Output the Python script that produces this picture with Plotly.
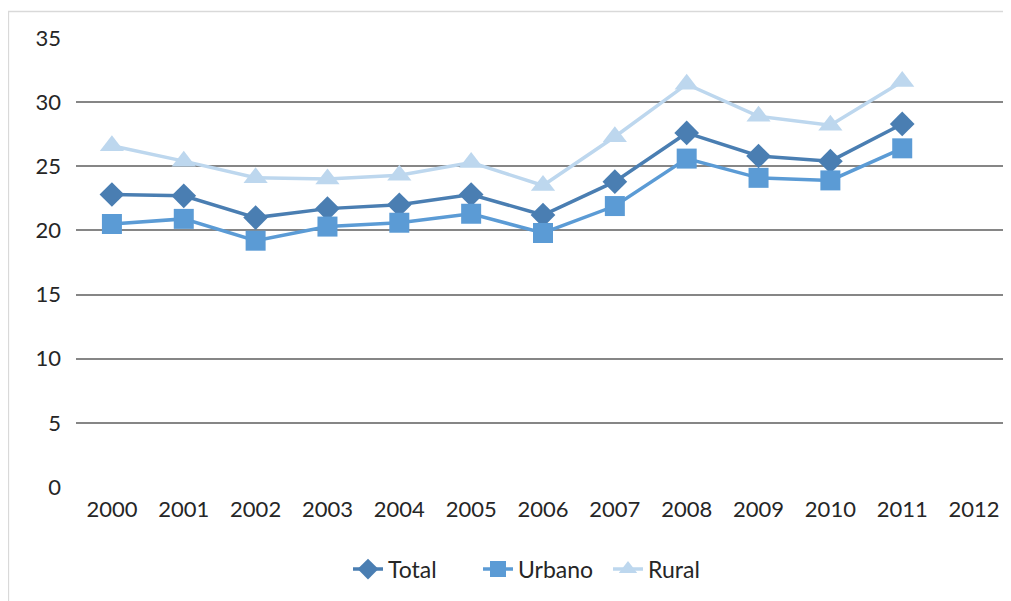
import plotly.graph_objects as go

years = [str(y) for y in range(2000, 2013)]

total = [22.8, 22.7, 21.0, 21.7, 22.0, 22.8, 21.2, 23.8, 27.6, 25.8, 25.4, 28.3, None]
urbano = [20.5, 20.9, 19.2, 20.3, 20.6, 21.3, 19.8, 21.9, 25.6, 24.1, 23.9, 26.4, None]
rural = [26.6, 25.4, 24.1, 24.0, 24.3, 25.3, 23.5, 27.3, 31.4, 28.9, 28.2, 31.6, None]

fig = go.Figure()

# series: (name, values, colour, marker symbol, marker size)
series = [
    ("Total", total, "#4A7EB2", "diamond", 19),
    ("Urbano", urbano, "#5B9BD5", "square", 20),
    ("Rural", rural, "#BDD7EE", "triangle-up", 21),
]

for name, vals, col, sym, sz in series:
    fig.add_trace(go.Scatter(
        x=years, y=vals, name=name, mode="lines+markers",
        line=dict(color=col, width=3.5),
        marker=dict(symbol=sym, size=sz, color=col),
    ))

# light chart-area border (left and top edges visible)
fig.add_shape(type="rect", xref="paper", yref="paper",
              x0=-0.0724, y0=-0.4, x1=1.03, y1=1.059,
              line=dict(color="#D9D9D9", width=1.5), layer="below")

# page body has an 8px margin, so the figure is shrunk by that amount
fig.update_layout(
    width=1003, height=593,
    margin=dict(l=68, r=1, t=30, b=114),
    paper_bgcolor="white", plot_bgcolor="white",
    font=dict(family="Lato", size=22, color="#262626"),
    showlegend=True,
    legend=dict(orientation="h", x=0.5, xanchor="center", y=-0.135, yanchor="top",
                font=dict(size=23), tracegroupgap=0, entrywidth=85,
                entrywidthmode="pixels"),
    xaxis=dict(type="category", range=[-0.5, 12.5], showgrid=False,
               showline=False, zeroline=False, ticks="", ticklen=0,
               ticklabelstandoff=7),
    yaxis=dict(range=[0, 35], dtick=5, showgrid=True, gridcolor="#868686",
               gridwidth=2, zeroline=False, showline=False, ticks="",
               ticklabelstandoff=14),
)

fig.write_html("out.html")
